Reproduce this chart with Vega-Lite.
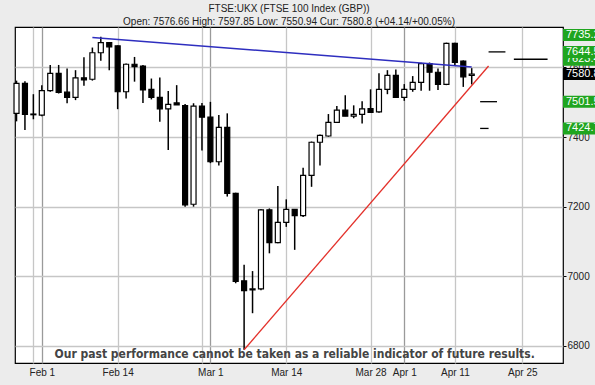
{
  "$schema": "https://vega.github.io/schema/vega-lite/v6.json",
  "width": 548,
  "height": 336,
  "autosize": {"type": "none"},
  "padding": {"left": 15, "top": 27, "right": 32, "bottom": 22},
  "background": "#ececec",
  "title": {
    "text": ["FTSE:UKX (FTSE 100 Index (GBP))", "Open: 7576.66 High: 7597.85 Low: 7550.94 Cur: 7580.8 (+04.14/+00.05%)"],
    "font": "Liberation Sans", "fontSize": 10, "fontWeight": "normal", "color": "#222",
    "anchor": "middle", "frame": "group", "baseline": "bottom", "offset": -10, "lineHeight": 13.5
  },
  "config": {
    "view": {"fill": "white", "stroke": "black", "strokeWidth": 1.2},
    "axis": {"labelFont": "Liberation Sans", "labelFontSize": 10, "labelColor": "#222", "domain": false, "tickColor": "black"}
  },
  "datasets": {
    "candles": [
      {"date": "2022-01-27", "open": 7468, "high": 7562, "low": 7445, "close": 7554},
      {"date": "2022-01-28", "open": 7554, "high": 7560, "low": 7420, "close": 7465},
      {"date": "2022-01-31", "open": 7466, "high": 7523, "low": 7451, "close": 7464},
      {"date": "2022-02-01", "open": 7463, "high": 7549, "low": 7460, "close": 7533},
      {"date": "2022-02-02", "open": 7533, "high": 7607, "low": 7530, "close": 7583},
      {"date": "2022-02-03", "open": 7583, "high": 7607, "low": 7525, "close": 7528},
      {"date": "2022-02-04", "open": 7529, "high": 7597, "low": 7497, "close": 7514},
      {"date": "2022-02-07", "open": 7514, "high": 7592, "low": 7506, "close": 7570},
      {"date": "2022-02-08", "open": 7570, "high": 7629, "low": 7547, "close": 7564},
      {"date": "2022-02-09", "open": 7566, "high": 7657, "low": 7562, "close": 7642},
      {"date": "2022-02-10", "open": 7642, "high": 7688, "low": 7619, "close": 7671},
      {"date": "2022-02-11", "open": 7671, "high": 7672, "low": 7592, "close": 7659},
      {"date": "2022-02-14", "open": 7662, "high": 7663, "low": 7480, "close": 7530},
      {"date": "2022-02-15", "open": 7530, "high": 7611, "low": 7511, "close": 7609},
      {"date": "2022-02-16", "open": 7609, "high": 7630, "low": 7559, "close": 7602},
      {"date": "2022-02-17", "open": 7604, "high": 7607, "low": 7498, "close": 7535},
      {"date": "2022-02-18", "open": 7537, "high": 7568, "low": 7508, "close": 7514},
      {"date": "2022-02-21", "open": 7514, "high": 7571, "low": 7444, "close": 7481},
      {"date": "2022-02-22", "open": 7481, "high": 7532, "low": 7363, "close": 7494},
      {"date": "2022-02-23", "open": 7498, "high": 7549, "low": 7492, "close": 7492},
      {"date": "2022-02-24", "open": 7490, "high": 7495, "low": 7200, "close": 7205},
      {"date": "2022-02-25", "open": 7207, "high": 7497, "low": 7200, "close": 7489},
      {"date": "2022-02-28", "open": 7489, "high": 7498, "low": 7361, "close": 7457},
      {"date": "2022-03-01", "open": 7457, "high": 7501, "low": 7325, "close": 7329},
      {"date": "2022-03-02", "open": 7329, "high": 7463, "low": 7318, "close": 7428},
      {"date": "2022-03-03", "open": 7428, "high": 7468, "low": 7229, "close": 7238},
      {"date": "2022-03-04", "open": 7238, "high": 7240, "low": 6980, "close": 6985},
      {"date": "2022-03-07", "open": 6987, "high": 7033, "low": 6789, "close": 6959},
      {"date": "2022-03-08", "open": 6961, "high": 7015, "low": 6894, "close": 6964},
      {"date": "2022-03-09", "open": 6964, "high": 7193, "low": 6960, "close": 7191},
      {"date": "2022-03-10", "open": 7191, "high": 7195, "low": 7066, "close": 7097},
      {"date": "2022-03-11", "open": 7097, "high": 7259, "low": 7095, "close": 7155},
      {"date": "2022-03-14", "open": 7155, "high": 7221, "low": 7142, "close": 7192},
      {"date": "2022-03-15", "open": 7192, "high": 7193, "low": 7076, "close": 7174},
      {"date": "2022-03-16", "open": 7174, "high": 7312, "low": 7170, "close": 7290},
      {"date": "2022-03-17", "open": 7290, "high": 7387, "low": 7257, "close": 7385},
      {"date": "2022-03-18", "open": 7385, "high": 7407, "low": 7318, "close": 7405},
      {"date": "2022-03-21", "open": 7403, "high": 7466, "low": 7401, "close": 7442},
      {"date": "2022-03-22", "open": 7442, "high": 7489, "low": 7440, "close": 7477},
      {"date": "2022-03-23", "open": 7477, "high": 7520, "low": 7460, "close": 7460},
      {"date": "2022-03-24", "open": 7460, "high": 7491, "low": 7454, "close": 7465},
      {"date": "2022-03-25", "open": 7465, "high": 7503, "low": 7439, "close": 7481},
      {"date": "2022-03-28", "open": 7482, "high": 7537, "low": 7471, "close": 7471},
      {"date": "2022-03-29", "open": 7472, "high": 7583, "low": 7470, "close": 7537},
      {"date": "2022-03-30", "open": 7537, "high": 7592, "low": 7523, "close": 7577},
      {"date": "2022-03-31", "open": 7577, "high": 7594, "low": 7512, "close": 7514},
      {"date": "2022-04-01", "open": 7514, "high": 7552, "low": 7504, "close": 7537},
      {"date": "2022-04-04", "open": 7537, "high": 7575, "low": 7530, "close": 7557},
      {"date": "2022-04-05", "open": 7557, "high": 7613, "low": 7533, "close": 7611},
      {"date": "2022-04-06", "open": 7611, "high": 7614, "low": 7533, "close": 7586},
      {"date": "2022-04-07", "open": 7586, "high": 7597, "low": 7535, "close": 7551},
      {"date": "2022-04-08", "open": 7551, "high": 7671, "low": 7549, "close": 7669},
      {"date": "2022-04-11", "open": 7669, "high": 7671, "low": 7607, "close": 7614},
      {"date": "2022-04-12", "open": 7618, "high": 7620, "low": 7544, "close": 7573},
      {"date": "2022-04-13", "open": 7576.66, "high": 7597.85, "low": 7550.94, "close": 7580.8}
    ],
    "resistance": [
      {"date": "2022-02-09", "value": 7686},
      {"date": "2022-04-13", "value": 7601}
    ],
    "support": [
      {"date": "2022-03-07", "value": 6789},
      {"date": "2022-04-19", "value": 7604}
    ],
    "targets": [
      {"value": 7644.5, "from": "2022-04-19", "to": "2022-04-21"},
      {"value": 7623.4, "from": "2022-04-22", "to": "2022-04-28"},
      {"value": 7501.5, "from": "2022-04-14", "to": "2022-04-20"},
      {"value": 7424.7, "from": "2022-04-14", "to": "2022-04-19"}
    ],
    "hiddenLevel": [
      {"label": "7623.4", "value": 7623.4}
    ],
    "levels": [
      {"label": "7644.5", "value": 7644.5},
      {"label": "7580.8", "value": 7580.8},
      {"label": "7501.5", "value": 7501.5},
      {"label": "7424.7", "value": 7424.7}
    ],
    "topLevel": [
      {"label": "7735.2", "value": 7735.2}
    ]
  },
  "encoding": {
    "x": {
      "field": "date", "type": "ordinal", "title": null,
      "scale": {
        "type": "point", "padding": 0.505, "align": 0.178,
        "domain": ["2022-01-27","2022-01-28","2022-01-31","2022-02-01","2022-02-02","2022-02-03","2022-02-04","2022-02-07","2022-02-08","2022-02-09","2022-02-10","2022-02-11","2022-02-14","2022-02-15","2022-02-16","2022-02-17","2022-02-18","2022-02-21","2022-02-22","2022-02-23","2022-02-24","2022-02-25","2022-02-28","2022-03-01","2022-03-02","2022-03-03","2022-03-04","2022-03-07","2022-03-08","2022-03-09","2022-03-10","2022-03-11","2022-03-14","2022-03-15","2022-03-16","2022-03-17","2022-03-18","2022-03-21","2022-03-22","2022-03-23","2022-03-24","2022-03-25","2022-03-28","2022-03-29","2022-03-30","2022-03-31","2022-04-01","2022-04-04","2022-04-05","2022-04-06","2022-04-07","2022-04-08","2022-04-11","2022-04-12","2022-04-13","2022-04-14","2022-04-19","2022-04-20","2022-04-21","2022-04-22","2022-04-25","2022-04-26","2022-04-27","2022-04-28","2022-04-29"]
      },
      "axis": {
        "orient": "bottom",
        "values": ["2022-01-31","2022-02-01","2022-02-14","2022-02-28","2022-03-01","2022-03-14","2022-03-28","2022-04-01","2022-04-11","2022-04-25"],
        "labelExpr": "(datum.value == '2022-01-31' || datum.value == '2022-02-28') ? '' : utcFormat(toDate(datum.value), '%b %-d')",
        "labelAngle": 0, "ticks": false, "labelPadding": 4,
        "grid": true, "gridWidth": 1.3,
        "gridColor": {"condition": {"test": "datum.value == '2022-02-01' || datum.value == '2022-03-01' || datum.value == '2022-04-01'", "value": "#9a9a9a"}, "value": "#c6c6c6"}
      }
    }
  },
  "layer": [
    {
      "data": {"name": "candles"},
      "mark": {"type": "rule", "color": "black", "strokeWidth": 1.5},
      "encoding": {
        "y": {
          "field": "low", "type": "quantitative", "title": null,
          "scale": {"domain": [6751, 7716], "nice": false, "zero": false, "clamp": true},
          "axis": {
            "orient": "right",
            "values": [6800, 6900, 7000, 7100, 7200, 7300, 7400, 7500, 7600, 7700],
            "labelExpr": "datum.value % 200 == 0 ? format(datum.value, 'd') : ''",
            "tickSize": 3, "labelPadding": 1,
            "grid": true, "gridWidth": 1.3,
            "gridColor": {"condition": {"test": "datum.value % 200 == 0", "value": "#c6c6c6"}, "value": "transparent"}
          }
        },
        "y2": {"field": "high"}
      }
    },
    {
      "data": {"name": "candles"},
      "mark": {"type": "bar", "width": 5, "stroke": "black", "strokeWidth": 1.2},
      "encoding": {
        "y": {"field": "open", "type": "quantitative"},
        "y2": {"field": "close"},
        "fill": {"condition": {"test": "datum.close < datum.open", "value": "black"}, "value": "white"}
      }
    },
    {
      "data": {"name": "resistance"},
      "mark": {"type": "line", "color": "#2e2ebf", "strokeWidth": 1.5},
      "encoding": {
        "y": {"field": "value", "type": "quantitative"}
      }
    },
    {
      "data": {"name": "support"},
      "mark": {"type": "line", "color": "#e3302a", "strokeWidth": 1.3},
      "encoding": {
        "y": {"field": "value", "type": "quantitative"}
      }
    },
    {
      "data": {"name": "targets"},
      "mark": {"type": "rule", "color": "black", "strokeWidth": 1.3},
      "encoding": {
        "x": {"field": "from", "type": "ordinal"},
        "x2": {"field": "to"},
        "y": {"field": "value", "type": "quantitative"}
      }
    },
    {
      "data": {"name": "hiddenLevel"},
      "mark": {"type": "tick", "orient": "horizontal", "size": 40, "thickness": 13, "xOffset": 27, "opacity": 1, "color": "#1fa51f"},
      "encoding": {
        "x": {"datum": "2022-04-29", "type": "ordinal"},
        "y": {"field": "value", "type": "quantitative"}
      }
    },
    {
      "data": {"name": "hiddenLevel"},
      "mark": {"type": "text", "align": "left", "baseline": "middle", "dx": 10, "font": "Liberation Sans", "fontSize": 11, "color": "white"},
      "encoding": {
        "x": {"datum": "2022-04-29", "type": "ordinal"},
        "y": {"field": "value", "type": "quantitative"},
        "text": {"field": "label"}
      }
    },
    {
      "data": {"name": "levels"},
      "mark": {"type": "tick", "orient": "horizontal", "size": 40, "thickness": 12, "xOffset": 27, "opacity": 1},
      "encoding": {
        "x": {"datum": "2022-04-29", "type": "ordinal"},
        "y": {"field": "value", "type": "quantitative"},
        "color": {"condition": {"test": "datum.value == 7580.8", "value": "black"}, "value": "#1fa51f"}
      }
    },
    {
      "data": {"name": "levels"},
      "mark": {"type": "text", "align": "left", "baseline": "middle", "dx": 10, "font": "Liberation Sans", "fontSize": 11, "color": "white"},
      "encoding": {
        "x": {"datum": "2022-04-29", "type": "ordinal"},
        "y": {"field": "value", "type": "quantitative"},
        "text": {"field": "label"}
      }
    },
    {
      "data": {"name": "topLevel"},
      "mark": {"type": "tick", "orient": "horizontal", "size": 40, "thickness": 12, "xOffset": 27, "yOffset": 8, "opacity": 1, "color": "#1fa51f"},
      "encoding": {
        "x": {"datum": "2022-04-29", "type": "ordinal"},
        "y": {"field": "value", "type": "quantitative"}
      }
    },
    {
      "data": {"name": "topLevel"},
      "mark": {"type": "text", "align": "left", "baseline": "middle", "dx": 10, "dy": 8, "font": "Liberation Sans", "fontSize": 11, "color": "white"},
      "encoding": {
        "x": {"datum": "2022-04-29", "type": "ordinal"},
        "y": {"field": "value", "type": "quantitative"},
        "text": {"field": "label"}
      }
    },
    {
      "data": {"values": [{"note": "Our past performance cannot be taken as a reliable indicator of future results."}]},
      "mark": {"type": "text", "align": "center", "baseline": "alphabetic", "font": "DejaVu Sans Condensed, sans-serif", "fontWeight": "bold", "fontSize": 12, "color": "#444"},
      "encoding": {
        "x": {"datum": "2022-03-15", "type": "ordinal"},
        "y": {"datum": 6766, "type": "quantitative"},
        "text": {"field": "note"}
      }
    }
  ]
}
